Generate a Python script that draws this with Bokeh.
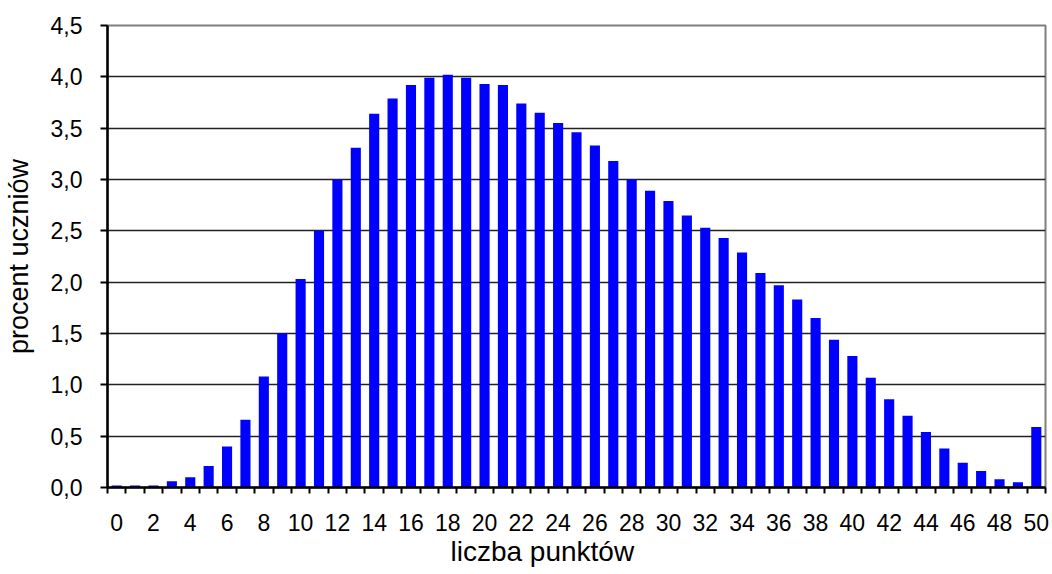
from bokeh.plotting import figure
from bokeh.models import Range1d, FixedTicker, CustomJSTickFormatter, Title
from bokeh.embed import file_html
from bokeh.resources import INLINE

points = list(range(0, 51))
percent = [0.02, 0.02, 0.02, 0.06, 0.10, 0.21, 0.40, 0.66, 1.08, 1.50,
           2.03, 2.50, 3.00, 3.31, 3.64, 3.79, 3.92, 3.99, 4.02, 3.99,
           3.93, 3.92, 3.74, 3.65, 3.55, 3.46, 3.33, 3.18, 3.00, 2.89,
           2.79, 2.65, 2.53, 2.43, 2.29, 2.09, 1.97, 1.83, 1.65, 1.44,
           1.28, 1.07, 0.86, 0.70, 0.54, 0.38, 0.24, 0.16, 0.08, 0.05,
           0.59]
x_label_ticks = list(range(0, 51, 2))
x_boundaries = [i - 0.5 for i in range(0, 52)]
y_ticks = [0, 0.5, 1.0, 1.5, 2.0, 2.5, 3.0, 3.5, 4.0, 4.5]

FONT = "Liberation Sans"

p = figure(width=1052, height=574, output_backend="svg", toolbar_location=None,
           x_range=Range1d(-0.5, 50.5), y_range=Range1d(0, 4.5),
           min_border_left=107, min_border_right=7, min_border_top=25,
           min_border_bottom=87)

p.vbar(x=points, top=percent, width=0.55, color="#0000FF", line_color=None)

p.outline_line_color = "#7f7f7f"
p.outline_line_width = 2

p.xgrid.grid_line_color = None
p.ygrid.ticker = FixedTicker(ticks=y_ticks)
p.ygrid.grid_line_color = "#222222"
p.ygrid.grid_line_width = 1.5

xa = p.xaxis[0]
xa.ticker = FixedTicker(ticks=x_label_ticks, minor_ticks=x_boundaries)
xa.major_tick_line_color = None
xa.major_tick_out = 6
xa.major_tick_in = 0
xa.minor_tick_out = 6
xa.minor_tick_in = 0
xa.minor_tick_line_color = "black"
xa.minor_tick_line_width = 2
xa.axis_line_color = "black"
xa.axis_line_width = 2.5
xa.major_label_text_font = FONT
xa.major_label_text_font_size = "23px"
xa.major_label_text_color = "black"
xa.major_label_standoff = 20

ya = p.yaxis[0]
ya.ticker = FixedTicker(ticks=y_ticks)
ya.formatter = CustomJSTickFormatter(code="return tick.toFixed(1).replace('.', ',');")
ya.major_tick_out = 7
ya.major_tick_in = 0
ya.minor_tick_line_color = None
ya.major_tick_line_color = "black"
ya.major_tick_line_width = 2
ya.axis_line_color = "black"
ya.axis_line_width = 2.5
ya.major_label_text_font = FONT
ya.major_label_text_font_size = "23px"
ya.major_label_text_color = "black"
ya.major_label_standoff = 18
ya.axis_label = "procent uczniów"
ya.axis_label_text_font = FONT
ya.axis_label_text_font_size = "27px"
ya.axis_label_text_font_style = "normal"
ya.axis_label_text_color = "black"
ya.axis_label_standoff = 14

p.add_layout(Title(text="liczba punktów", align="left", offset=343,
                   text_font=FONT, text_font_size="28px",
                   text_font_style="normal", text_color="black",
                   standoff=0), "below")

open("out.html", "w").write(file_html(p, INLINE))
